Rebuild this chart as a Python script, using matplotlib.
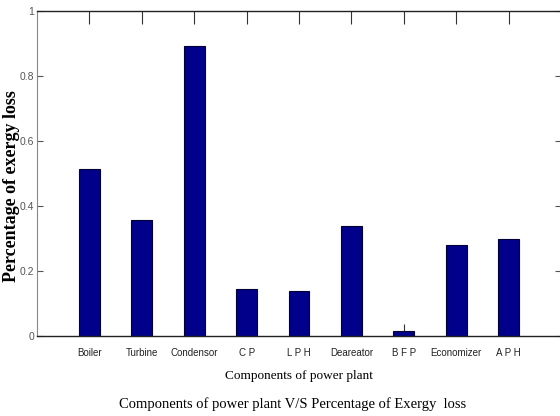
import matplotlib
matplotlib.use("Agg")
import matplotlib.pyplot as plt
import numpy as np

components = ['Boiler', 'Turbine', 'Condensor', 'C P', 'L P H',
              'Deareator', 'B F P', 'Economizer', 'A P H']
exergy_loss = [0.513, 0.356, 0.891, 0.145, 0.138, 0.338, 0.016, 0.279, 0.297]
yticks = [0, 0.2, 0.4, 0.6, 0.8, 1]
ytick_labels = ['0', '0.2', '0.4', '0.6', '0.8', '1']

sans = 'Liberation Sans'
serif = 'Liberation Serif'

fig = plt.figure(figsize=(5.6, 4.16), dpi=100)
ax = fig.add_axes([37 / 560, 80 / 416, 524 / 560, 325 / 416])

x = np.arange(1, len(components) + 1)
ax.bar(x, exergy_loss, width=0.4, color='#00008b', edgecolor='#000033',
       linewidth=0.8, zorder=2)
ax.set_axisbelow(True)

ax.set_xlim(0, 10)
ax.set_ylim(0, 1)
ax.set_xticks(x)
ax.set_xticklabels(components, family=sans, fontsize=7, color='#222222')
ax.set_yticks(yticks)
ax.set_yticklabels(ytick_labels, family=sans, fontsize=7.5, color='#444444')
ax.tick_params(axis='x', direction='in', length=9, width=0.8, top=True,
               pad=9, colors='#333333')
ax.tick_params(axis='y', direction='in', length=4, width=0.8, right=True,
               pad=2, colors='#555555')
for lab in ax.get_xticklabels():
    lab.set_color('#222222')

for side in ['left', 'right']:
    ax.spines[side].set_color('#888888')
for side in ['top', 'bottom']:
    ax.spines[side].set_color('#222222')
    ax.spines[side].set_linewidth(1.0)

# rotated label: the x coordinate is the right edge of the text
ax.set_ylabel('Percentage of exergy loss', family=serif, fontweight='bold',
              fontsize=13)
ax.yaxis.set_label_coords(-0.032, 0.46)
ax.set_xlabel('Components of power plant', family=serif, fontsize=9.5)
ax.xaxis.set_label_coords(0.5, -0.105)
fig.text(293 / 560, 1 - 404 / 416,
         'Components of power plant V/S Percentage of Exergy  loss',
         family=serif, fontsize=10.5, ha='center', va='center')

fig.savefig('out.png', dpi=100)
